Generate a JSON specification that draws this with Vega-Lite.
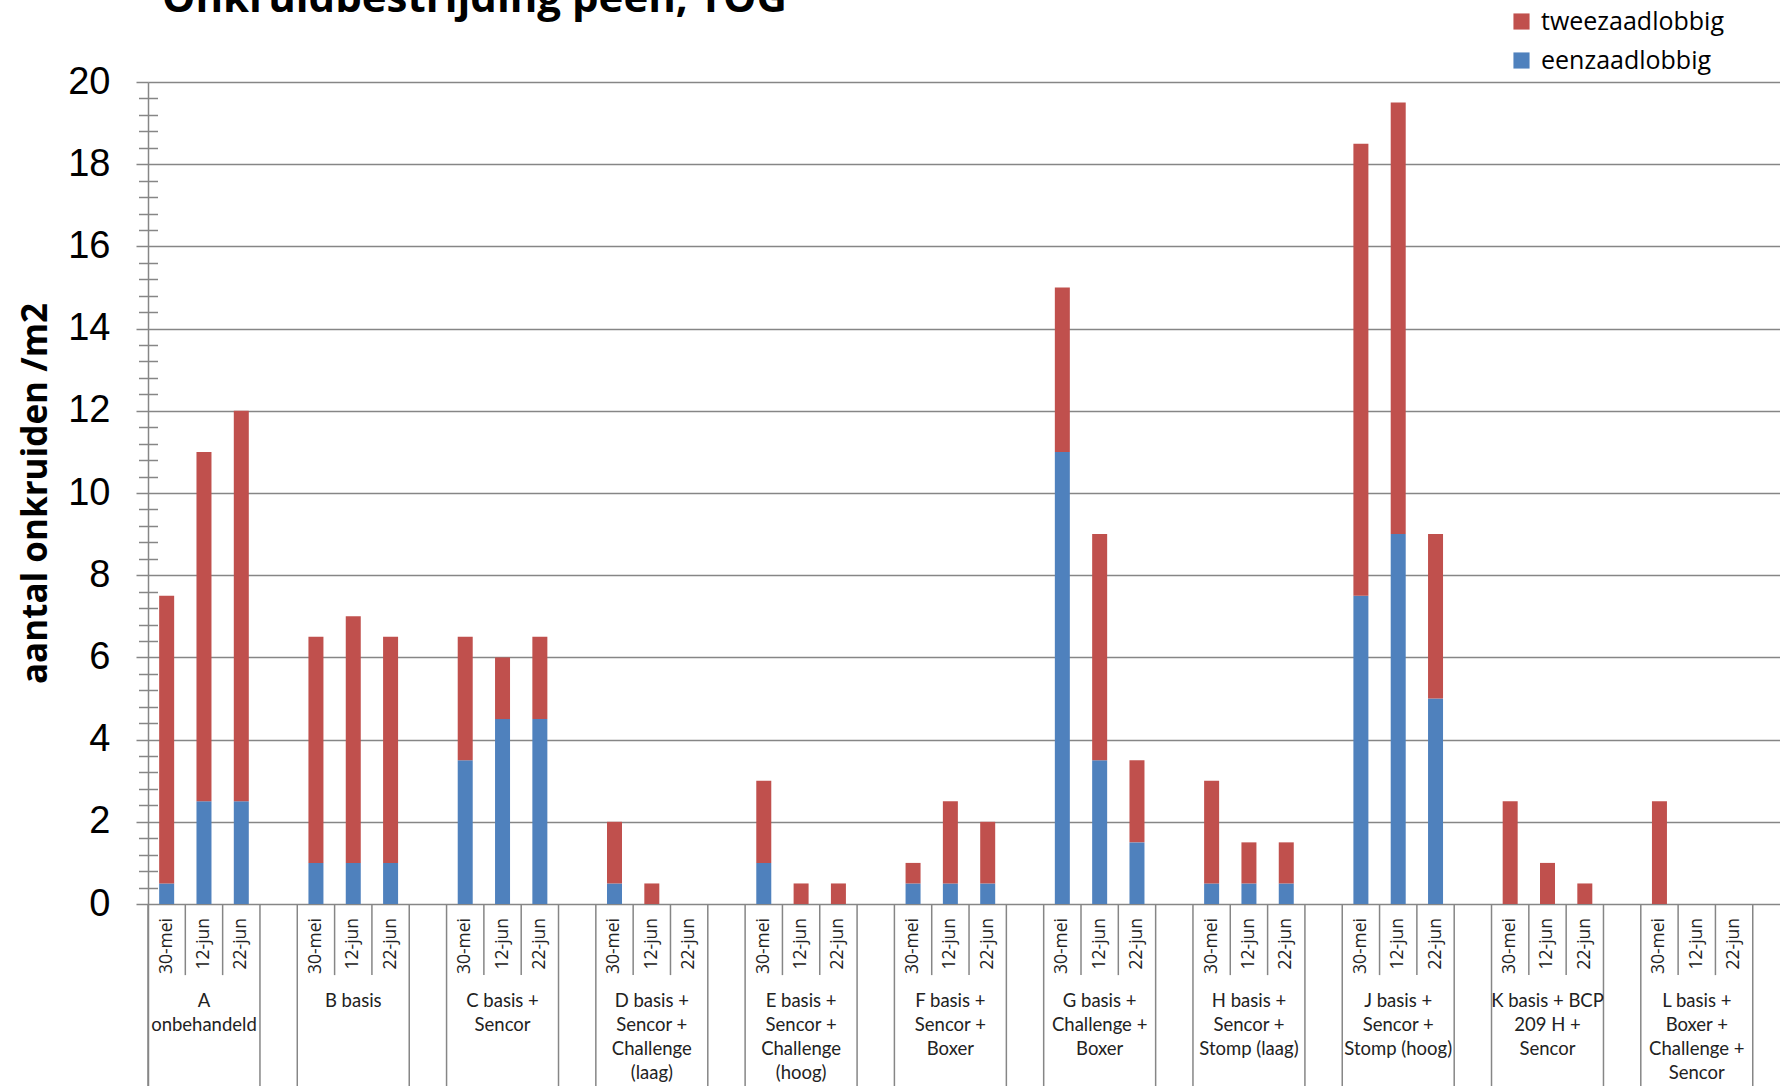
{
  "$schema": "https://vega.github.io/schema/vega-lite/v6.json",
  "autosize": {"type": "none"},
  "padding": {"left": 148, "top": 82, "right": 0, "bottom": 0},
  "width": 1632,
  "height": 1004,
  "background": "white",
  "title": {"text": "Onkruidbestrijding peen, TOG", "anchor": "start", "frame": "group", "font": "Open Sans", "fontSize": 42, "fontWeight": "bold", "color": "#000000", "dx": 14, "dy": 12, "offset": 0},
  "config": {"view": {"stroke": null}},
  "resolve": {"axis": {"y": "independent"}},
  "datasets": {
    "bars": [
      {"slot": "A1", "date": "30-mei", "type": "eenzaadlobbig", "v": 0.5}, {"slot": "A1", "date": "30-mei", "type": "tweezaadlobbig", "v": 7},
      {"slot": "A2", "date": "12-jun", "type": "eenzaadlobbig", "v": 2.5}, {"slot": "A2", "date": "12-jun", "type": "tweezaadlobbig", "v": 8.5},
      {"slot": "A3", "date": "22-jun", "type": "eenzaadlobbig", "v": 2.5}, {"slot": "A3", "date": "22-jun", "type": "tweezaadlobbig", "v": 9.5},
      {"slot": "B1", "date": "30-mei", "type": "eenzaadlobbig", "v": 1}, {"slot": "B1", "date": "30-mei", "type": "tweezaadlobbig", "v": 5.5},
      {"slot": "B2", "date": "12-jun", "type": "eenzaadlobbig", "v": 1}, {"slot": "B2", "date": "12-jun", "type": "tweezaadlobbig", "v": 6},
      {"slot": "B3", "date": "22-jun", "type": "eenzaadlobbig", "v": 1}, {"slot": "B3", "date": "22-jun", "type": "tweezaadlobbig", "v": 5.5},
      {"slot": "C1", "date": "30-mei", "type": "eenzaadlobbig", "v": 3.5}, {"slot": "C1", "date": "30-mei", "type": "tweezaadlobbig", "v": 3},
      {"slot": "C2", "date": "12-jun", "type": "eenzaadlobbig", "v": 4.5}, {"slot": "C2", "date": "12-jun", "type": "tweezaadlobbig", "v": 1.5},
      {"slot": "C3", "date": "22-jun", "type": "eenzaadlobbig", "v": 4.5}, {"slot": "C3", "date": "22-jun", "type": "tweezaadlobbig", "v": 2},
      {"slot": "D1", "date": "30-mei", "type": "eenzaadlobbig", "v": 0.5}, {"slot": "D1", "date": "30-mei", "type": "tweezaadlobbig", "v": 1.5},
      {"slot": "D2", "date": "12-jun", "type": "eenzaadlobbig", "v": 0}, {"slot": "D2", "date": "12-jun", "type": "tweezaadlobbig", "v": 0.5},
      {"slot": "D3", "date": "22-jun", "type": "eenzaadlobbig", "v": 0}, {"slot": "D3", "date": "22-jun", "type": "tweezaadlobbig", "v": 0},
      {"slot": "E1", "date": "30-mei", "type": "eenzaadlobbig", "v": 1}, {"slot": "E1", "date": "30-mei", "type": "tweezaadlobbig", "v": 2},
      {"slot": "E2", "date": "12-jun", "type": "eenzaadlobbig", "v": 0}, {"slot": "E2", "date": "12-jun", "type": "tweezaadlobbig", "v": 0.5},
      {"slot": "E3", "date": "22-jun", "type": "eenzaadlobbig", "v": 0}, {"slot": "E3", "date": "22-jun", "type": "tweezaadlobbig", "v": 0.5},
      {"slot": "F1", "date": "30-mei", "type": "eenzaadlobbig", "v": 0.5}, {"slot": "F1", "date": "30-mei", "type": "tweezaadlobbig", "v": 0.5},
      {"slot": "F2", "date": "12-jun", "type": "eenzaadlobbig", "v": 0.5}, {"slot": "F2", "date": "12-jun", "type": "tweezaadlobbig", "v": 2},
      {"slot": "F3", "date": "22-jun", "type": "eenzaadlobbig", "v": 0.5}, {"slot": "F3", "date": "22-jun", "type": "tweezaadlobbig", "v": 1.5},
      {"slot": "G1", "date": "30-mei", "type": "eenzaadlobbig", "v": 11}, {"slot": "G1", "date": "30-mei", "type": "tweezaadlobbig", "v": 4},
      {"slot": "G2", "date": "12-jun", "type": "eenzaadlobbig", "v": 3.5}, {"slot": "G2", "date": "12-jun", "type": "tweezaadlobbig", "v": 5.5},
      {"slot": "G3", "date": "22-jun", "type": "eenzaadlobbig", "v": 1.5}, {"slot": "G3", "date": "22-jun", "type": "tweezaadlobbig", "v": 2},
      {"slot": "H1", "date": "30-mei", "type": "eenzaadlobbig", "v": 0.5}, {"slot": "H1", "date": "30-mei", "type": "tweezaadlobbig", "v": 2.5},
      {"slot": "H2", "date": "12-jun", "type": "eenzaadlobbig", "v": 0.5}, {"slot": "H2", "date": "12-jun", "type": "tweezaadlobbig", "v": 1},
      {"slot": "H3", "date": "22-jun", "type": "eenzaadlobbig", "v": 0.5}, {"slot": "H3", "date": "22-jun", "type": "tweezaadlobbig", "v": 1},
      {"slot": "J1", "date": "30-mei", "type": "eenzaadlobbig", "v": 7.5}, {"slot": "J1", "date": "30-mei", "type": "tweezaadlobbig", "v": 11},
      {"slot": "J2", "date": "12-jun", "type": "eenzaadlobbig", "v": 9}, {"slot": "J2", "date": "12-jun", "type": "tweezaadlobbig", "v": 10.5},
      {"slot": "J3", "date": "22-jun", "type": "eenzaadlobbig", "v": 5}, {"slot": "J3", "date": "22-jun", "type": "tweezaadlobbig", "v": 4},
      {"slot": "K1", "date": "30-mei", "type": "eenzaadlobbig", "v": 0}, {"slot": "K1", "date": "30-mei", "type": "tweezaadlobbig", "v": 2.5},
      {"slot": "K2", "date": "12-jun", "type": "eenzaadlobbig", "v": 0}, {"slot": "K2", "date": "12-jun", "type": "tweezaadlobbig", "v": 1},
      {"slot": "K3", "date": "22-jun", "type": "eenzaadlobbig", "v": 0}, {"slot": "K3", "date": "22-jun", "type": "tweezaadlobbig", "v": 0.5},
      {"slot": "L1", "date": "30-mei", "type": "eenzaadlobbig", "v": 0}, {"slot": "L1", "date": "30-mei", "type": "tweezaadlobbig", "v": 2.5},
      {"slot": "L2", "date": "12-jun", "type": "eenzaadlobbig", "v": 0}, {"slot": "L2", "date": "12-jun", "type": "tweezaadlobbig", "v": 0},
      {"slot": "L3", "date": "22-jun", "type": "eenzaadlobbig", "v": 0}, {"slot": "L3", "date": "22-jun", "type": "tweezaadlobbig", "v": 0}
    ],
    "groups": [
      {"slot": "A2", "label": "A\nonbehandeld"},
      {"slot": "B2", "label": "B basis"},
      {"slot": "C2", "label": "C basis +\nSencor"},
      {"slot": "D2", "label": "D basis +\nSencor +\nChallenge\n(laag)"},
      {"slot": "E2", "label": "E basis +\nSencor +\nChallenge\n(hoog)"},
      {"slot": "F2", "label": "F basis +\nSencor +\nBoxer"},
      {"slot": "G2", "label": "G basis +\nChallenge +\nBoxer"},
      {"slot": "H2", "label": "H basis +\nSencor +\nStomp (laag)"},
      {"slot": "J2", "label": "J basis +\nSencor +\nStomp (hoog)"},
      {"slot": "K2", "label": "K basis + BCP\n209 H +\nSencor"},
      {"slot": "L2", "label": "L basis +\nBoxer +\nChallenge +\nSencor"}
    ],
    "seps": [
      {"slot": "A1", "kind": "left"}, {"slot": "A2", "kind": "mid"}, {"slot": "A3", "kind": "mid"}, {"slot": "A3", "kind": "right"},
      {"slot": "B1", "kind": "left"}, {"slot": "B2", "kind": "mid"}, {"slot": "B3", "kind": "mid"}, {"slot": "B3", "kind": "right"},
      {"slot": "C1", "kind": "left"}, {"slot": "C2", "kind": "mid"}, {"slot": "C3", "kind": "mid"}, {"slot": "C3", "kind": "right"},
      {"slot": "D1", "kind": "left"}, {"slot": "D2", "kind": "mid"}, {"slot": "D3", "kind": "mid"}, {"slot": "D3", "kind": "right"},
      {"slot": "E1", "kind": "left"}, {"slot": "E2", "kind": "mid"}, {"slot": "E3", "kind": "mid"}, {"slot": "E3", "kind": "right"},
      {"slot": "F1", "kind": "left"}, {"slot": "F2", "kind": "mid"}, {"slot": "F3", "kind": "mid"}, {"slot": "F3", "kind": "right"},
      {"slot": "G1", "kind": "left"}, {"slot": "G2", "kind": "mid"}, {"slot": "G3", "kind": "mid"}, {"slot": "G3", "kind": "right"},
      {"slot": "H1", "kind": "left"}, {"slot": "H2", "kind": "mid"}, {"slot": "H3", "kind": "mid"}, {"slot": "H3", "kind": "right"},
      {"slot": "J1", "kind": "left"}, {"slot": "J2", "kind": "mid"}, {"slot": "J3", "kind": "mid"}, {"slot": "J3", "kind": "right"},
      {"slot": "K1", "kind": "left"}, {"slot": "K2", "kind": "mid"}, {"slot": "K3", "kind": "mid"}, {"slot": "K3", "kind": "right"},
      {"slot": "L1", "kind": "left"}, {"slot": "L2", "kind": "mid"}, {"slot": "L3", "kind": "mid"}, {"slot": "L3", "kind": "right"}
    ]
  },
  "layer": [
    {
      "data": {"name": "bars"},
      "mark": {"type": "bar", "width": 15},
      "encoding": {
        "x": {"field": "slot", "type": "nominal", "axis": null,
              "scale": {"domain": ["A1","A2","A3","A4","B1","B2","B3","B4","C1","C2","C3","C4","D1","D2","D3","D4","E1","E2","E3","E4","F1","F2","F3","F4","G1","G2","G3","G4","H1","H2","H3","H4","J1","J2","J3","J4","K1","K2","K3","K4","L1","L2","L3"], "paddingInner": 0, "paddingOuter": 0.365, "align": 0}},
        "y": {"field": "v", "type": "quantitative", "stack": "zero", "title": "aantal onkruiden /m2",
              "scale": {"domain": [-4.428, 20], "nice": false, "zero": false},
              "axis": {"orient": "left", "values": [0,2,4,6,8,10,12,14,16,18,20], "tickCount": 40, "format": ".0f",
                       "labelOverlap": false, "labelFlush": false, "labelBound": false,
                       "labelFont": "Liberation Sans", "labelFontSize": 38, "labelColor": "#000000", "labelPadding": 26,
                       "tickSize": 12, "tickColor": "#868686", "tickWidth": 1.5,
                       "domainColor": "#868686", "domainWidth": 1.5,
                       "grid": true, "gridColor": "#868686", "gridWidth": 1.5,
                       "titleFont": "Open Sans", "titleFontSize": 35, "titleFontWeight": "bold", "titleColor": "#000000",
                       "titleY": 411, "titlePadding": 14}},
        "color": {"field": "type", "type": "nominal",
                  "scale": {"domain": ["tweezaadlobbig", "eenzaadlobbig"], "range": ["#C0504D", "#4F81BD"]},
                  "legend": {"title": null, "orient": "none", "legendX": 1361, "legendY": -73,
                             "symbolType": "square", "symbolSize": 260, "symbolStrokeWidth": 0, "labelLimit": 400,
                             "labelFont": "Open Sans", "labelFontSize": 25, "labelColor": "#000000", "labelOffset": 7, "rowPadding": 13}},
        "order": {"field": "type", "sort": "ascending"}
      }
    },
    {
      "data": {"name": "seps"},
      "transform": [{"filter": "datum.kind === 'left'"}],
      "mark": {"type": "rule", "color": "#868686", "strokeWidth": 1.5},
      "encoding": {
        "x": {"field": "slot", "type": "nominal", "bandPosition": 0, "axis": null},
        "y": {"datum": 0, "type": "quantitative",
              "axis": {"orient": "left", "values": [0.4,0.8,1.2,1.6,2.4,2.8,3.2,3.6,4.4,4.8,5.2,5.6,6.4,6.8,7.2,7.6,8.4,8.8,9.2,9.6,10.4,10.8,11.2,11.6,12.4,12.8,13.2,13.6,14.4,14.8,15.2,15.6,16.4,16.8,17.2,17.6,18.4,18.8,19.2,19.6],
                       "tickCount": 100, "labels": false, "domain": false, "grid": false, "title": null,
                       "tickSize": 19, "tickColor": "#868686", "tickWidth": 1.5, "offset": -9.5}},
        "y2": {"datum": -4.428}
      }
    },
    {
      "data": {"name": "seps"},
      "transform": [{"filter": "datum.kind === 'mid'"}],
      "mark": {"type": "rule", "color": "#868686", "strokeWidth": 1.5},
      "encoding": {
        "x": {"field": "slot", "type": "nominal", "bandPosition": 0, "axis": null},
        "y": {"datum": 0, "type": "quantitative", "axis": null},
        "y2": {"datum": -1.73}
      }
    },
    {
      "data": {"name": "seps"},
      "transform": [{"filter": "datum.kind === 'right'"}],
      "mark": {"type": "rule", "color": "#868686", "strokeWidth": 1.5},
      "encoding": {
        "x": {"field": "slot", "type": "nominal", "bandPosition": 1, "axis": null},
        "y": {"datum": 0, "type": "quantitative", "axis": null},
        "y2": {"datum": -4.428}
      }
    },
    {
      "data": {"name": "bars"},
      "transform": [{"filter": "datum.type === 'eenzaadlobbig'"}],
      "mark": {"type": "text", "angle": 270, "align": "right", "baseline": "middle", "font": "Open Sans", "fontSize": 17.5, "color": "#222222"},
      "encoding": {
        "x": {"field": "slot", "type": "nominal", "axis": null},
        "y": {"datum": -0.34, "type": "quantitative", "axis": null},
        "text": {"field": "date"}
      }
    },
    {
      "data": {"name": "groups"},
      "mark": {"type": "text", "align": "center", "baseline": "line-top", "lineHeight": 24, "lineBreak": "\n", "font": "Lato", "fontSize": 18.5, "color": "#222222"},
      "encoding": {
        "x": {"field": "slot", "type": "nominal", "axis": null},
        "y": {"datum": -2.09, "type": "quantitative", "axis": null},
        "text": {"field": "label"}
      }
    }
  ]
}
